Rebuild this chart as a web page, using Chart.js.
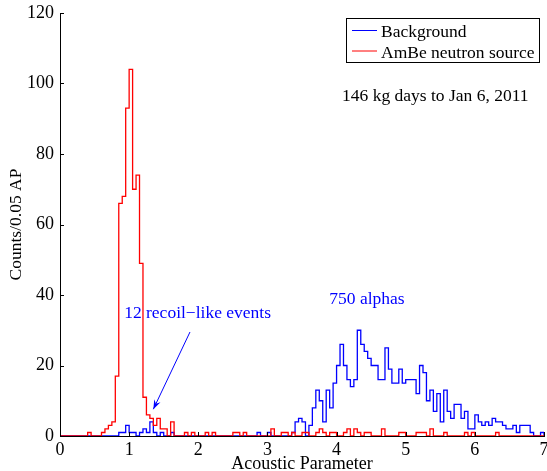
<!DOCTYPE html>
<html>
<head>
<meta charset="utf-8">
<script src="https://cdn.jsdelivr.net/npm/chart.js@4.4.1/dist/chart.umd.min.js"></script>
<style>
  html, body { margin: 0; padding: 0; background: #fff; }
</style>
</head>
<body>
<canvas id="c" width="547" height="471"></canvas>
<script>
// histogram bins: 0.05 AP wide, 140 bins from 0 to 7
const binWidth = 0.05;
const xTicks = [0, 1, 2, 3, 4, 5, 6, 7];
const yTicks = [0, 20, 40, 60, 80, 100, 120];

// counts per bin, background run
const background = [
  0, 0, 0, 0, 0, 0, 0, 0, 0, 0,
  0, 0, 0, 0, 0, 0, 0, 1, 1, 3,
  1, 1, 0, 1, 2, 1, 4, 1, 0, 1,
  0, 0, 1, 0, 0, 0, 0, 0, 0, 0,
  0, 0, 0, 0, 0, 0, 0, 0, 0, 0,
  0, 0, 0, 0, 0, 0, 0, 1, 0, 0,
  1, 0, 0, 0, 0, 0, 0, 1, 4, 5,
  4, 0, 3, 8, 13, 10, 4, 13, 8, 15,
  20, 26, 20, 16, 14, 16, 30, 26, 24, 22,
  20, 20, 16, 16, 25, 19, 15, 15, 19, 15,
  16, 16, 16, 12, 20, 18, 10, 13, 7, 12,
  4, 13, 7, 5, 9, 9, 5, 7, 2, 2,
  6, 4, 3, 4, 3, 5, 4, 4, 3, 2,
  2, 3, 1, 3, 3, 3, 1, 0, 0, 1
];

// counts per bin, AmBe neutron source run
const ambe = [
  0, 0, 0, 0, 0, 0, 0, 0, 1, 0,
  0, 0, 1, 2, 3, 4, 17, 66, 68, 93,
  104, 70, 74, 49, 11, 6, 5, 3, 5, 2,
  2, 0, 4, 0, 0, 0, 1, 0, 1, 0,
  0, 0, 1, 0, 1, 0, 0, 0, 0, 0,
  1, 1, 0, 1, 0, 0, 0, 0, 0, 0,
  0, 2, 0, 0, 1, 1, 0, 1, 0, 0,
  1, 1, 0, 0, 1, 2, 1, 0, 1, 1,
  0, 0, 1, 2, 0, 2, 1, 0, 1, 1,
  0, 0, 0, 2, 0, 0, 0, 0, 1, 1,
  0, 0, 0, 1, 1, 1, 0, 2, 0, 0,
  0, 1, 0, 0, 0, 0, 0, 1, 0, 1,
  0, 0, 0, 0, 0, 0, 1, 0, 0, 0,
  0, 0, 0, 0, 0, 0, 0, 0, 0, 0
];

// one point per left bin edge plus the closing edge; 'before' stepping
// keeps each count flat across its own bin
function steps(counts) {
  const pts = counts.map((c, i) => ({x: i * binWidth, y: c}));
  pts.push({x: counts.length * binWidth, y: 0});
  return pts;
}

const serif = "'Liberation Serif', 'Times New Roman', serif";
const textFont = '17.5px ' + serif;
Chart.defaults.font.family = serif;
Chart.defaults.color = '#000';

// inward tick marks, legend box and the text annotations
const decor = {
  id: 'decor',
  afterDraw(chart) {
    const {ctx, chartArea: a, scales: {x, y}} = chart;
    ctx.save();
    ctx.strokeStyle = '#000';
    ctx.lineWidth = 1;
    ctx.beginPath();
    xTicks.forEach(v => {
      const px = Math.round(x.getPixelForValue(v)) + 0.5;
      ctx.moveTo(px, a.bottom);
      ctx.lineTo(px, a.bottom - 4);
    });
    yTicks.forEach(v => {
      const py = Math.round(y.getPixelForValue(v)) + 0.5;
      ctx.moveTo(a.left, py);
      ctx.lineTo(a.left + 4, py);
    });
    ctx.stroke();

    // legend
    ctx.strokeStyle = '#000';
    ctx.strokeRect(346.5, 18.5, 193, 44);
    ctx.font = textFont;
    ctx.textBaseline = 'alphabetic';
    ctx.textAlign = 'left';
    chart.data.datasets.forEach((ds, i) => {
      const ly = 30.5 + i * 20.5;
      ctx.strokeStyle = ds.borderColor;
      ctx.beginPath();
      ctx.moveTo(352, ly);
      ctx.lineTo(377, ly);
      ctx.stroke();
      ctx.fillStyle = '#000';
      ctx.fillText(ds.label, 381, ly + 6.5);
    });

    ctx.fillStyle = '#000';
    ctx.fillText('146 kg days to Jan 6, 2011', 342, 101);

    ctx.fillStyle = '#0000ff';
    ctx.textAlign = 'center';
    ctx.fillText('750 alphas', x.getPixelForValue(4.44), y.getPixelForValue(37.5));
    ctx.fillText('12 recoil\u2212like events', x.getPixelForValue(1.99), y.getPixelForValue(33.5));

    // arrow to the recoil-like events
    const x0 = x.getPixelForValue(1.88), y0 = y.getPixelForValue(29.5);
    const x1 = x.getPixelForValue(1.35), y1 = y.getPixelForValue(7.6);
    const ang = Math.atan2(y1 - y0, x1 - x0);
    ctx.strokeStyle = '#0000ff';
    ctx.fillStyle = '#0000ff';
    ctx.beginPath();
    ctx.moveTo(x0, y0);
    ctx.lineTo(x1, y1);
    ctx.stroke();
    ctx.beginPath();
    ctx.moveTo(x1, y1);
    ctx.lineTo(x1 - 10 * Math.cos(ang - 0.35), y1 - 10 * Math.sin(ang - 0.35));
    ctx.lineTo(x1 - 6 * Math.cos(ang), y1 - 6 * Math.sin(ang));
    ctx.lineTo(x1 - 10 * Math.cos(ang + 0.35), y1 - 10 * Math.sin(ang + 0.35));
    ctx.closePath();
    ctx.fill();
    ctx.restore();
  }
};

new Chart(document.getElementById('c'), {
  type: 'line',
  data: {
    datasets: [
      {label: 'Background', data: steps(background), borderColor: '#0000ff', order: 2},
      {label: 'AmBe neutron source', data: steps(ambe), borderColor: '#ff0000', order: 1}
    ]
  },
  options: {
    responsive: false,
    animation: false,
    parsing: false,
    datasets: {line: {stepped: 'before', pointRadius: 0, borderWidth: 1.3, fill: false}},
    layout: {padding: {top: 13, right: 3, left: 0, bottom: 0}},
    plugins: {legend: {display: false}, tooltip: {enabled: false}},
    scales: {
      x: {
        type: 'linear', min: 0, max: 7,
        afterBuildTicks: s => { s.ticks = xTicks.map(v => ({value: v})); },
        afterFit: s => { s.height = 35; s.paddingLeft = 0; s.paddingRight = 0; },
        grid: {display: false, drawTicks: false},
        border: {display: true, color: '#000', width: 1},
        ticks: {font: {size: 18}, padding: 3, maxRotation: 0, autoSkip: false},
        title: {display: true, text: 'Acoustic Parameter', font: {size: 18, lineHeight: 1}, padding: {top: 0, bottom: -2}}
      },
      y: {
        type: 'linear', min: 0, max: 120,
        afterBuildTicks: s => { s.ticks = yTicks.map(v => ({value: v})); },
        afterFit: s => { s.width = 60; s.paddingTop = 0; s.paddingBottom = 0; },
        grid: {display: false, drawTicks: false},
        border: {display: true, color: '#000', width: 1},
        ticks: {font: {size: 18}, padding: 6},
        title: {display: true, text: 'Counts/0.05 AP', font: {size: 17.5, lineHeight: 1}, padding: {top: 8, bottom: 0}}
      }
    }
  },
  plugins: [decor]
});
</script>
</body>
</html>
